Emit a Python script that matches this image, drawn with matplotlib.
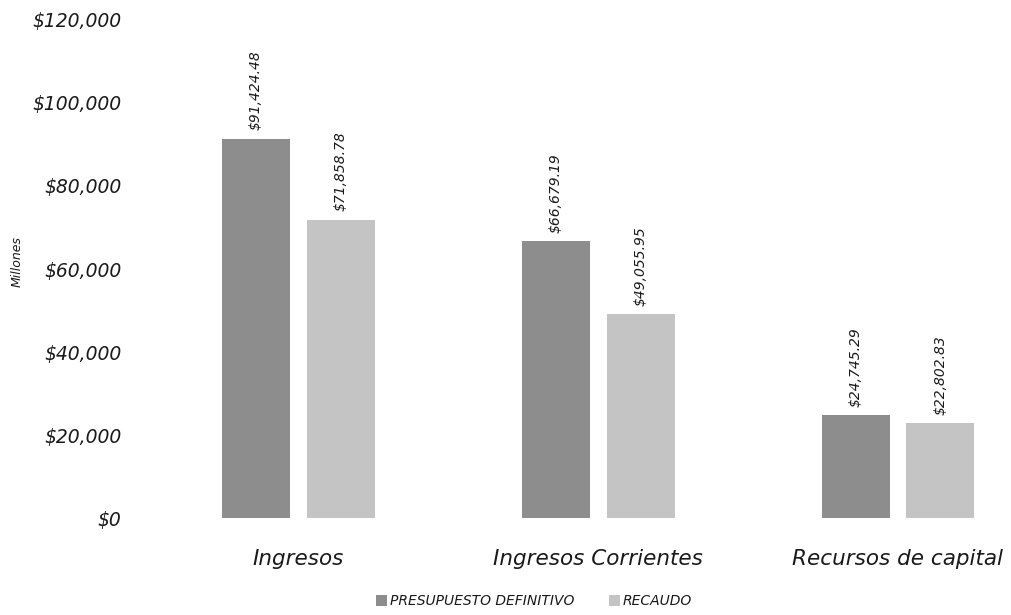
import numpy as np
import matplotlib.pyplot as plt
from matplotlib.ticker import FuncFormatter

categories = ['Ingresos', 'Ingresos Corrientes', 'Recursos de capital']
presupuesto = [91424.48, 66679.19, 24745.29]
recaudo = [71858.78, 49055.95, 22802.83]
series_names = ['PRESUPUESTO DEFINITIVO', 'RECAUDO']

plt.rcParams['font.family'] = ['DejaVu Sans']
txt = '#1a1a1a'

fig = plt.figure(figsize=(10.11, 6.15), dpi=100)
ax = fig.add_axes([0.124, 0.1577, 0.876, 0.8098])

x = np.arange(len(categories))
w = 0.227
off = 0.283
b1 = ax.bar(x - off / 2, presupuesto, w, color='#8d8d8d', label=series_names[0])
b2 = ax.bar(x + off / 2, recaudo, w, color='#c4c4c4', label=series_names[1])

# rotated value labels above bars
for bars in (b1, b2):
    for rect in bars:
        h = rect.get_height()
        ax.annotate('${:,.2f}'.format(h), (rect.get_x() + rect.get_width() / 2, h),
                    xytext=(0, 6), textcoords='offset points', rotation=90,
                    ha='center', va='bottom', fontsize=10, style='italic', color=txt)

ax.set_ylim(0, 120000)
ax.set_yticks(range(0, 120001, 20000))
ax.yaxis.set_major_formatter(FuncFormatter(lambda v, p: '${:,.0f}'.format(v)))
ax.set_xlim(-0.577, 2.377)
ax.set_xticks(x)
ax.set_xticklabels(categories, fontsize=15.5, style='italic', color=txt)
for lab in ax.get_yticklabels():
    lab.set_fontsize(13.5)
    lab.set_style('italic')
    lab.set_color(txt)
ax.tick_params(length=0, axis='both')
ax.tick_params(axis='x', pad=22)
ax.tick_params(axis='y', pad=3)
for s in ax.spines.values():
    s.set_visible(False)

fig.text(0.017, 0.574, 'Millones', rotation=90, fontsize=9, style='italic',
         ha='center', va='center', color=txt)

leg = fig.legend(loc='center', bbox_to_anchor=(0.528, 0.022), ncol=2, frameon=False,
                 prop={'size': 10, 'style': 'italic'}, handlelength=0.8, handleheight=0.8,
                 handletextpad=0.2, columnspacing=2.5)
for t in leg.get_texts():
    t.set_color(txt)

fig.savefig('out.png', dpi=100)
